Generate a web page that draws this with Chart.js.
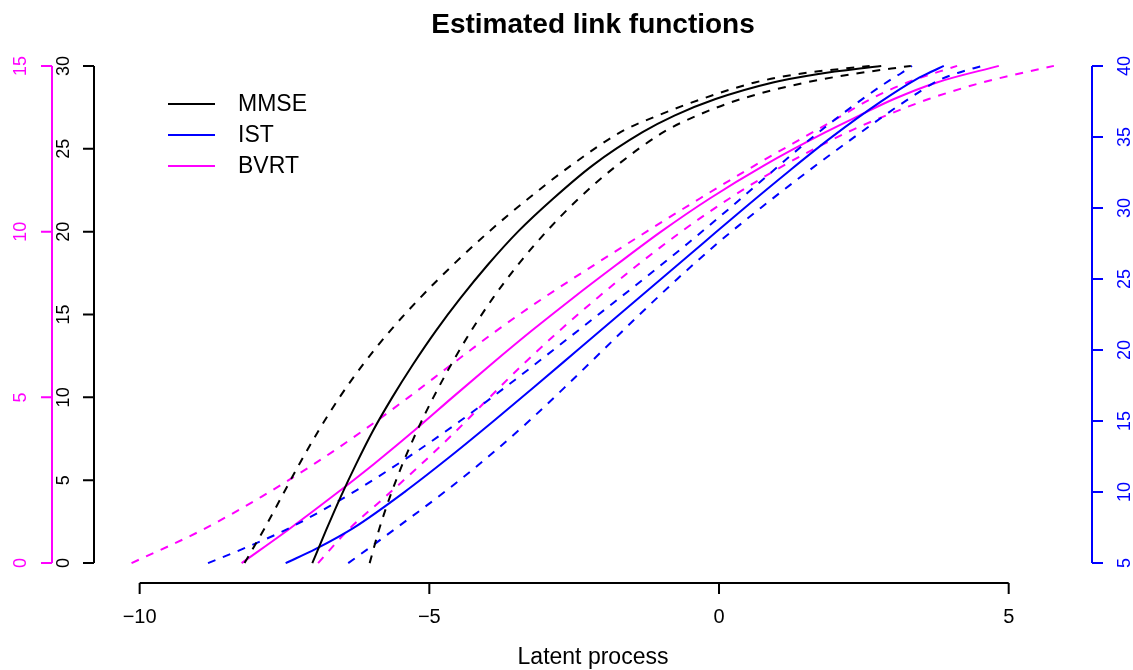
<!DOCTYPE html>
<html>
<head>
<meta charset="utf-8">
<script src="https://cdn.jsdelivr.net/npm/chart.js@4.4.1/dist/chart.umd.min.js"></script>
<style>
  html, body { margin: 0; padding: 0; background: #fff; }
  #wrap { width: 1133px; height: 670px; }
</style>
</head>
<body>
<div id="wrap"><canvas id="chart" width="1133" height="670"></canvas></div>
<script>
// link function estimates: latent value for each score
const mmseScore  = [0, 2, 4, 6, 8, 10, 12, 14, 16, 18, 20, 22, 24, 26, 27, 28, 29, 29.5, 30];
const mmseLatent = [-7.02, -6.78, -6.53, -6.26, -5.97, -5.64, -5.28, -4.89, -4.46, -3.99, -3.47, -2.86, -2.18, -1.32, -0.77, -0.06, 0.93, 1.69, 2.8];
const mmseUpper  = [-8.19, -7.86, -7.55, -7.24, -6.91, -6.55, -6.14, -5.68, -5.16, -4.59, -3.97, -3.29, -2.55, -1.70, -1.06, -0.30, 0.62, 1.35, 2.6];
const mmseLower  = [-6.03, -5.87, -5.68, -5.46, -5.21, -4.93, -4.62, -4.28, -3.90, -3.47, -2.98, -2.42, -1.76, -0.96, -0.38, 0.38, 1.50, 2.30, 3.31];

const istScore  = [5, 6, 7.5, 10, 12.5, 15, 17.5, 20, 22.5, 25, 27.5, 30, 32.5, 35, 37.5, 39, 39.5, 40];
const istLatent = [-7.48, -6.96, -6.30, -5.43, -4.64, -3.89, -3.16, -2.44, -1.72, -1.00, -0.28, 0.44, 1.18, 1.95, 2.80, 3.38, 3.62, 3.88];
const istUpper  = [-8.82, -8.22, -7.40, -6.31, -5.35, -4.47, -3.65, -2.86, -2.08, -1.30, -0.54, 0.19, 0.90, 1.62, 2.42, 2.95, 3.15, 3.33];
const istLower  = [-6.40, -6.06, -5.56, -4.74, -3.98, -3.28, -2.63, -2.00, -1.37, -0.72, -0.03, 0.72, 1.51, 2.34, 3.21, 3.80, 4.12, 4.54];

const bvrtScore  = [0, 1, 2, 3, 4, 5, 6, 7, 8, 9, 10, 11, 12, 13, 13.5, 14, 14.5, 15];
const bvrtLatent = [-8.24, -7.44, -6.68, -5.95, -5.26, -4.60, -3.93, -3.24, -2.52, -1.77, -1.00, -0.16, 0.78, 1.84, 2.42, 3.02, 3.76, 4.83];
const bvrtUpper  = [-10.14, -8.92, -7.90, -6.98, -6.14, -5.36, -4.61, -3.85, -3.03, -2.15, -1.25, -0.33, 0.62, 1.62, 2.12, 2.62, 3.25, 4.11];
const bvrtLower  = [-6.92, -6.40, -5.76, -5.13, -4.53, -3.96, -3.38, -2.76, -2.10, -1.40, -0.65, 0.18, 1.12, 2.22, 2.88, 3.62, 4.55, 5.78];

// axis ticks
const xTicks    = [-10, -5, 0, 5];
const mmseTicks = [0, 5, 10, 15, 20, 25, 30];
const bvrtTicks = [0, 5, 10, 15];
const istTicks  = [5, 10, 15, 20, 25, 30, 35, 40];

const legendNames  = ["MMSE", "IST", "BVRT"];
const legendColors = ["#000000", "#0000ff", "#ff00ff"];

// R style 4% extension of the data ranges
const ext = (lo, hi) => { const d = (hi - lo) * 0.04; return [lo - d, hi + d]; };
const xLim    = ext(-10.15, 5.80);
const mmseLim = ext(0, 30);
const bvrtLim = ext(0, 15);
const istLim  = ext(5, 40);

const toPoints = (lat, sc) => lat.map((x, i) => ({ x: x, y: sc[i] }));
const FONT = "'Liberation Sans', Arial, Helvetica, sans-serif";

function curve(lat, sc, axis, color, dashed) {
    return {
        data: toPoints(lat, sc),
        yAxisID: axis,
        showLine: true,
        borderColor: color,
        borderWidth: 2,
        borderDash: dashed ? [8, 8] : [],
        pointRadius: 0,
        fill: false,
        cubicInterpolationMode: "monotone",
    };
}

function vtext(ctx, txt, x, y) {
    ctx.save();
    ctx.translate(x, y);
    ctx.rotate(-Math.PI / 2);
    ctx.fillText(txt, 0, 0);
    ctx.restore();
}

function yAxis(ctx, scale, ticks, xLine, side, labelX, color, size) {
    const top = scale.getPixelForValue(ticks[ticks.length - 1]);
    const bot = scale.getPixelForValue(ticks[0]);
    ctx.strokeStyle = color;
    ctx.fillStyle = color;
    ctx.lineWidth = 2;
    ctx.beginPath();
    ctx.moveTo(xLine, bot);
    ctx.lineTo(xLine, top);
    ticks.forEach(t => {
        const py = scale.getPixelForValue(t);
        ctx.moveTo(xLine, py);
        ctx.lineTo(xLine + side * 11, py);
    });
    ctx.stroke();
    ctx.font = size + "px " + FONT;
    ctx.textAlign = "center";
    ctx.textBaseline = "alphabetic";
    ticks.forEach(t => vtext(ctx, String(t), labelX, scale.getPixelForValue(t)));
}

const rAxes = {
    id: "rAxes",
    afterDraw(chart) {
        const ctx = chart.ctx;
        const s = chart.scales;
        const area = chart.chartArea;
        const midX = (area.left + area.right) / 2;
        ctx.save();

        // x axis
        const x0 = s.x.getPixelForValue(xTicks[0]);
        const x1 = s.x.getPixelForValue(xTicks[xTicks.length - 1]);
        ctx.strokeStyle = "#000";
        ctx.fillStyle = "#000";
        ctx.lineWidth = 2;
        ctx.beginPath();
        ctx.moveTo(x0, area.bottom);
        ctx.lineTo(x1, area.bottom);
        xTicks.forEach(t => {
            const px = s.x.getPixelForValue(t);
            ctx.moveTo(px, area.bottom);
            ctx.lineTo(px, area.bottom + 11);
        });
        ctx.stroke();
        ctx.font = "20px " + FONT;
        ctx.textAlign = "center";
        ctx.textBaseline = "alphabetic";
        xTicks.forEach(t => ctx.fillText(String(t).replace("-", "\u2212"), s.x.getPixelForValue(t), 623));
        ctx.font = "23px " + FONT;
        ctx.fillText("Latent process", midX, 664);

        // three y axes
        yAxis(ctx, s.y, mmseTicks, area.left, -1, 69, "#000000", 18);
        yAxis(ctx, s.yB, bvrtTicks, 52, -1, 26, "#ff00ff", 18);
        yAxis(ctx, s.yI, istTicks, area.right, 1, 1130, "#0000ff", 18);

        // title
        ctx.fillStyle = "#000";
        ctx.font = "bold 28px " + FONT;
        ctx.textAlign = "center";
        ctx.fillText("Estimated link functions", midX, 33);

        // legend
        ctx.font = "23px " + FONT;
        ctx.textAlign = "left";
        ctx.textBaseline = "middle";
        legendNames.forEach((name, i) => {
            const ly = 104 + i * 31;
            ctx.strokeStyle = legendColors[i];
            ctx.lineWidth = 2;
            ctx.beginPath();
            ctx.moveTo(168, ly);
            ctx.lineTo(215, ly);
            ctx.stroke();
            ctx.fillStyle = "#000";
            ctx.fillText(name, 238, ly + 1);
        });
        ctx.restore();
    }
};

new Chart(document.getElementById("chart"), {
    type: "scatter",
    data: {
        datasets: [
            curve(mmseLatent, mmseScore, "y", "#000000", false),
            curve(mmseUpper, mmseScore, "y", "#000000", true),
            curve(mmseLower, mmseScore, "y", "#000000", true),
            curve(istLatent, istScore, "yI", "#0000ff", false),
            curve(istUpper, istScore, "yI", "#0000ff", true),
            curve(istLower, istScore, "yI", "#0000ff", true),
            curve(bvrtLatent, bvrtScore, "yB", "#ff00ff", false),
            curve(bvrtUpper, bvrtScore, "yB", "#ff00ff", true),
            curve(bvrtLower, bvrtScore, "yB", "#ff00ff", true),
        ],
    },
    options: {
        responsive: false,
        animation: false,
        devicePixelRatio: 1,
        layout: { padding: { left: 94, right: 41, top: 46, bottom: 87 } },
        scales: {
            x:  { type: "linear", display: false, min: xLim[0], max: xLim[1] },
            y:  { type: "linear", display: false, min: mmseLim[0], max: mmseLim[1] },
            yB: { type: "linear", display: false, min: bvrtLim[0], max: bvrtLim[1] },
            yI: { type: "linear", display: false, min: istLim[0], max: istLim[1] },
        },
        plugins: { legend: { display: false }, tooltip: { enabled: false } },
    },
    plugins: [rAxes],
});
</script>
</body>
</html>
